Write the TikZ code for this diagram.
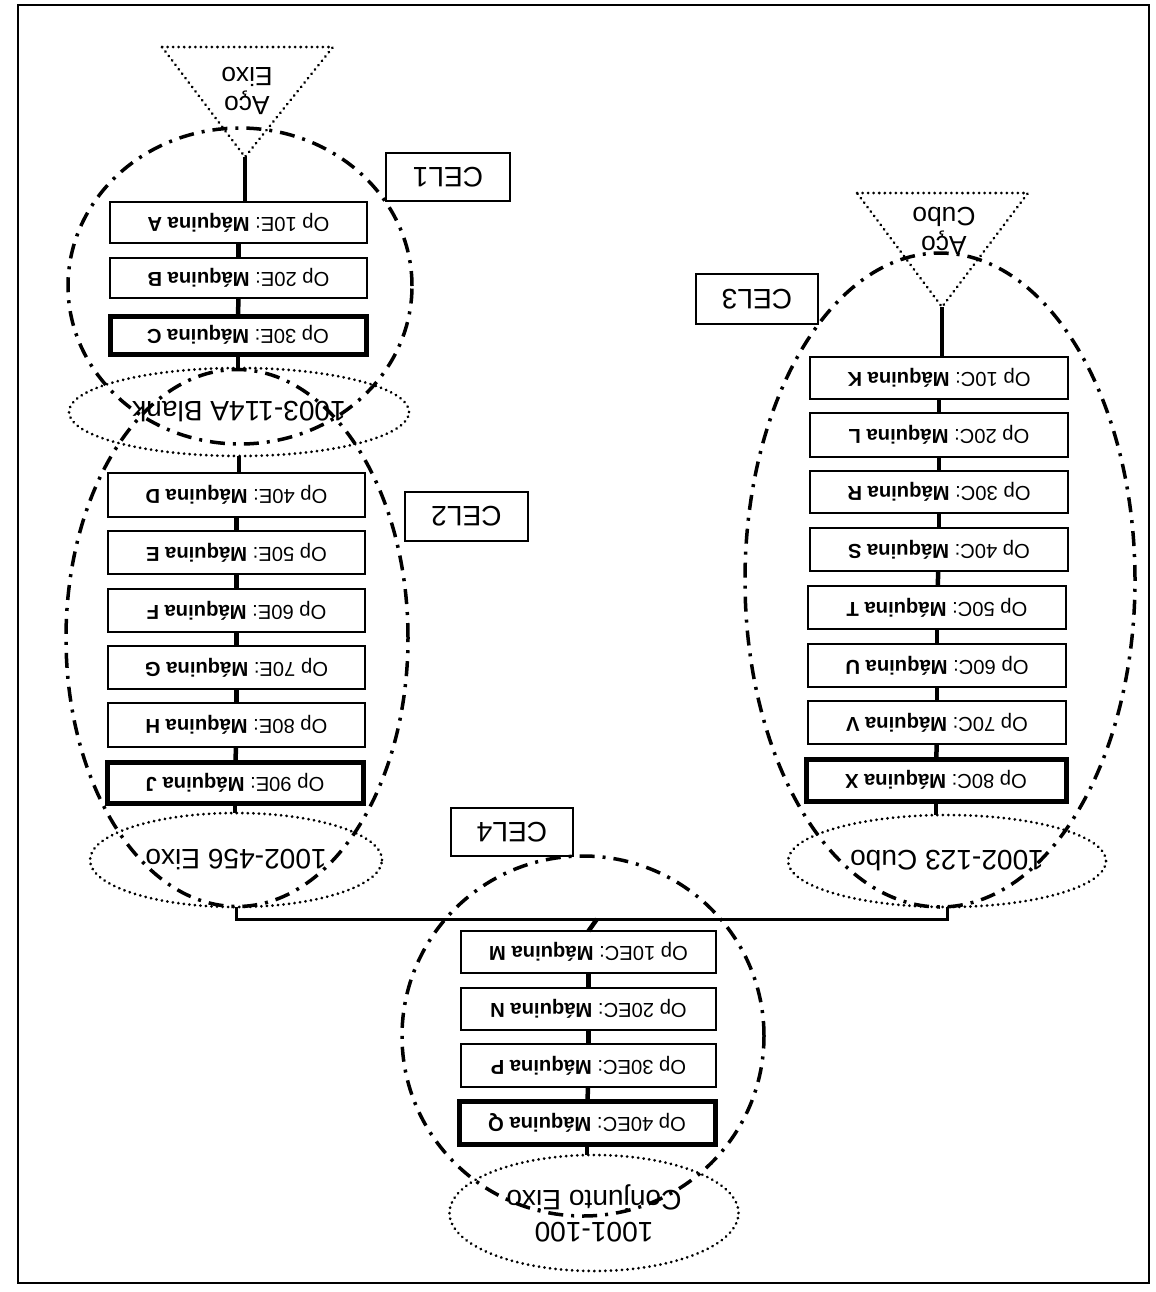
\documentclass[tikz,border=0pt]{standalone}
\usepackage{fontspec}
\setmainfont{Liberation Sans}
\usepackage{graphicx}
\usetikzlibrary{shapes.geometric}
\newcommand\rot[1]{\rotatebox{180}{#1}}
\newcommand\twolines[2]{\rotatebox{180}{\begin{tabular}{@{}c@{}}#1\\#2\end{tabular}}}
\newcommand\opnode[7]{\node[#2, minimum width={(#5-#3)*0.02cm}, minimum height={(#6-#4)*0.02cm}] (#1) at ({(#3+#5)/2},{(#4+#6)/2}) {\rotatebox{180}{#7}};}
\tikzset{
  opbox/.style={draw, fill=white, line width=0.04cm, inner sep=0pt, outer sep=0pt, font=\fontsize{11.5}{13}\selectfont},
  opthick/.style={opbox, line width=0.1cm},
  dotline/.style={line width=0.06cm, line cap=round, dash pattern=on 0.001cm off 0.11cm},
  part/.style={ellipse, draw, dotline, inner sep=0pt, outer sep=0pt, font=\fontsize{16}{18}\selectfont},
  celbox/.style={draw, line width=0.05cm, inner sep=0pt, outer sep=0pt, font=\fontsize{16}{18}\selectfont},
  ring/.style={ellipse, draw, inner sep=0pt, line width=0.07cm, dash pattern=on 0.3cm off 0.16cm on 0.06cm off 0.16cm},
  link/.style={line width=0.09cm},
  trilabel/.style={font=\fontsize{15}{17}\selectfont, inner sep=0pt}
}
\begin{document}
\begin{tikzpicture}[x=0.02cm, y=-0.02cm]
\useasboundingbox (0,0) rectangle (1156,1292);
\draw[line width=0.045cm] (18,5) rectangle (1149,1283);

% ---- left column (CEL1 / CEL2)
\coordinate (t1l) at (162,47); \coordinate (t1r) at (333,47); \coordinate (t1a) at (245,157);
\draw[dotline] (t1l) -- (t1r) -- (t1a) -- cycle;
\node[trilabel] (t1txt) at (247,88) {\twolines{Aço}{Eixo}};

\opnode{A}{opbox}{110}{202}{367}{243}{Op 10E: \textbf{Máquina A}}
\opnode{B}{opbox}{110}{258}{367}{298}{Op 20E: \textbf{Máquina B}}
\opnode{C}{opthick}{110}{316}{366}{354}{Op 30E: \textbf{Máquina C}}
\node[part, minimum width={340*0.02cm}, minimum height={88*0.02cm}] (E1) at (239,412) {\rot{1003-114A Blank}};
\opnode{D}{opbox}{108}{473}{365}{517}{Op 40E: \textbf{Máquina D}}
\opnode{E}{opbox}{108}{531}{365}{574}{Op 50E: \textbf{Máquina E}}
\opnode{F}{opbox}{108}{589}{365}{632}{Op 60E: \textbf{Máquina F}}
\opnode{G}{opbox}{108}{646}{365}{689}{Op 70E: \textbf{Máquina G}}
\opnode{H}{opbox}{108}{703}{365}{747}{Op 80E: \textbf{Máquina H}}
\opnode{J}{opthick}{107}{762}{363}{803}{Op 90E: \textbf{Máquina J}}
\node[part, minimum width={292*0.02cm}, minimum height={94*0.02cm}] (E2) at (236,860) {\rot{1002-456 Eixo}};

\draw[link] (t1a) -- (t1a |- A.north);
\draw[link] (A) -- (B);
\draw[link] (B) -- (C);
\draw[link] (C.south) -- (C.south |- E1.north);
\draw[link] (E1.south) -- (E1.south |- D.north);
\draw[link] (D) -- (E);
\draw[link] (E) -- (F);
\draw[link] (F) -- (G);
\draw[link] (G) -- (H);
\draw[link] (H) -- (J);
\draw[link] (J.south) -- (J.south |- E2.north);

% ---- right column (CEL3)
\coordinate (t2l) at (857,193); \coordinate (t2r) at (1028,193); \coordinate (t2a) at (942,307);
\draw[dotline] (t2l) -- (t2r) -- (t2a) -- cycle;
\node[trilabel] (t2txt) at (944,228) {\twolines{Aço}{Cubo}};

\opnode{K}{opbox}{810}{357}{1068}{399}{Op 10C: \textbf{Máquina K}}
\opnode{L}{opbox}{810}{413}{1068}{457}{Op 20C: \textbf{Máquina L}}
\opnode{R}{opbox}{810}{471}{1068}{513}{Op 30C: \textbf{Máquina R}}
\opnode{S}{opbox}{810}{528}{1068}{571}{Op 40C: \textbf{Máquina S}}
\opnode{T}{opbox}{808}{586}{1066}{629}{Op 50C: \textbf{Máquina T}}
\opnode{U}{opbox}{808}{644}{1066}{687}{Op 60C: \textbf{Máquina U}}
\opnode{V}{opbox}{808}{701}{1066}{744}{Op 70C: \textbf{Máquina V}}
\opnode{X}{opthick}{806}{759}{1066}{801}{Op 80C: \textbf{Máquina X}}
\node[part, minimum width={318*0.02cm}, minimum height={92*0.02cm}] (E3) at (947,861) {\rot{1002-123 Cubo}};

\draw[link] (t2a) -- (t2a |- K.north);
\draw[link] (K) -- (L);
\draw[link] (L) -- (R);
\draw[link] (R) -- (S);
\draw[link] (S) -- (T);
\draw[link] (T) -- (U);
\draw[link] (U) -- (V);
\draw[link] (V) -- (X);
\draw[link] (X.south) -- (X.south |- E3.north);

% ---- centre column (CEL4)
\opnode{M}{opbox}{461}{931}{716}{973}{Op 10EC: \textbf{Máquina M}}
\opnode{N}{opbox}{461}{988}{716}{1030}{Op 20EC: \textbf{Máquina N}}
\opnode{P}{opbox}{461}{1044}{716}{1087}{Op 30EC: \textbf{Máquina P}}
\opnode{Q}{opthick}{459}{1101}{715}{1144}{Op 40EC: \textbf{Máquina Q}}
\node[part, minimum width={289*0.02cm}, minimum height={116*0.02cm}] (E4) at (594,1213) {\twolines{1001-100}{Conjunto Eixo}};

\coordinate (jc) at (597,919);
\draw[line width=0.06cm] (E2.south) |- (jc);
\draw[line width=0.06cm] (E3.south) |- (jc);
\draw[link] (jc) -- (M.north);
\draw[link] (M) -- (N);
\draw[link] (N) -- (P);
\draw[link] (P) -- (Q);
\draw[link] (Q.south) -- (Q.south |- E4.north);

% ---- cell labels
\node[celbox, minimum width={124*0.02cm}, minimum height={48*0.02cm}] (cel1) at (448,177) {\rot{CEL1}};
\node[celbox, minimum width={123*0.02cm}, minimum height={49*0.02cm}] (cel2) at (466.5,516.5) {\rot{CEL2}};
\node[celbox, minimum width={122*0.02cm}, minimum height={50*0.02cm}] (cel3) at (757,299) {\rot{CEL3}};
\node[celbox, minimum width={122*0.02cm}, minimum height={48*0.02cm}] (cel4) at (512,832) {\rot{CEL4}};

% ---- cell boundaries
\node[ring, minimum width={344*0.02cm}, minimum height={316*0.02cm}] (ring1) at (240,286) {};
\node[ring, minimum width={342*0.02cm}, minimum height={537*0.02cm}] (ring2) at (237,638) {};
\node[ring, minimum width={390*0.02cm}, minimum height={654*0.02cm}] (ring3) at (940,580) {};
\node[ring, minimum width={362*0.02cm}, minimum height={360*0.02cm}] (ring4) at (583,1036) {};
\end{tikzpicture}
\end{document}
